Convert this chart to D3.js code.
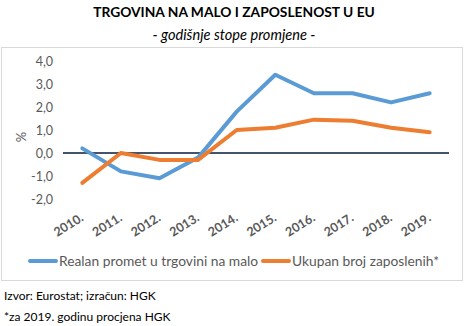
<!DOCTYPE html>
<html><head><meta charset="utf-8">
<script src="https://cdn.jsdelivr.net/npm/d3@7"></script>
<style>body{margin:0;background:#fff}svg{display:block}</style>
</head><body>
<svg id="c" width="468" height="326"></svg>
<script>
const years = ["2010.","2011.","2012.","2013.","2014.","2015.","2016.","2017.","2018.","2019."];
const retail = [0.2,-0.8,-1.1,-0.2,1.8,3.4,2.6,2.6,2.2,2.6];
const employment = [-1.3,0.0,-0.3,-0.3,1.0,1.1,1.45,1.4,1.1,0.9];
const yTicks = [-2,-1,0,1,2,3,4];
const seriesNames = ["Realan promet u trgovini na malo","Ukupan broj zaposlenih*"];
const colors = ["#5B9BD5","#ED7D31"];

const svg = d3.select("#c");
const font = "Lato, sans-serif";

svg.append("rect").attr("x",1.5).attr("y",47.5).attr("width",461).attr("height",233)
  .attr("fill","#fff").attr("stroke","#d9d9d9");

svg.append("text").attr("x",234).attr("y",17).attr("text-anchor","middle")
  .attr("font-family",font).attr("font-weight","bold").attr("font-size",13.8).attr("fill","#000")
  .text("TRGOVINA NA MALO I ZAPOSLENOST U EU");
svg.append("text").attr("x",234).attr("y",39.5).attr("text-anchor","middle")
  .attr("font-family",font).attr("font-style","italic").attr("font-size",14.6).attr("fill","#000")
  .text("- godišnje stope promjene -");

const x = d3.scaleBand().domain(years).range([63,449]);
const y = d3.scaleLinear().domain([-2,4]).range([199,61]);

const yAxis = svg.append("g").attr("transform","translate(55,0)")
  .call(d3.axisLeft(y).tickValues(yTicks).tickSize(0).tickPadding(2).tickFormat(d=>d3.format(".1f")(d).replace(".",",").replace("−","-")));
yAxis.select(".domain").remove();
yAxis.selectAll("text").attr("font-family",font).attr("font-size",12.5).attr("fill","#595959");

svg.append("text").attr("transform","translate(26,137) rotate(-90)").attr("text-anchor","middle")
  .attr("font-family",font).attr("font-size",13).attr("fill","#595959").text("%");

const xAxis = svg.append("g").attr("transform","translate(0,203)")
  .call(d3.axisBottom(x).tickSize(0).tickPadding(0));
xAxis.select(".domain").remove();
xAxis.selectAll("text").attr("font-family",font).attr("font-size",12.5).attr("font-weight","bold")
  .attr("fill","#595959").attr("text-anchor","end").attr("dy",0)
  .attr("transform","translate(2,17) rotate(-32)");

svg.append("line").attr("x1",63).attr("x2",449).attr("y1",y(0)).attr("y2",y(0))
  .attr("stroke","#44546A").attr("stroke-width",2);

const line = d3.line().x((d,i)=>x(years[i])+x.bandwidth()/2).y(d=>y(d));
[retail,employment].forEach((s,k)=>{
  svg.append("path").attr("d",line(s)).attr("fill","none").attr("stroke",colors[k])
    .attr("stroke-width",4).attr("stroke-linecap","round").attr("stroke-linejoin","round");
});

const legX = [29,262];
seriesNames.forEach((n,k)=>{
  svg.append("line").attr("x1",legX[k]+1).attr("x2",legX[k]+27).attr("y1",261).attr("y2",261)
    .attr("stroke",colors[k]).attr("stroke-width",4).attr("stroke-linecap","round");
  svg.append("text").attr("x",legX[k]+30).attr("y",266).attr("font-family",font).attr("font-size",13.8)
    .attr("fill","#595959").text(n);
});

svg.append("text").attr("x",4).attr("y",300).attr("font-family",font).attr("font-size",12).attr("fill","#000")
  .text("Izvor: Eurostat; izračun: HGK");
svg.append("text").attr("x",4).attr("y",320.5).attr("font-family",font).attr("font-size",12).attr("fill","#000")
  .text("*za 2019. godinu procjena HGK");
</script>
</body></html>
